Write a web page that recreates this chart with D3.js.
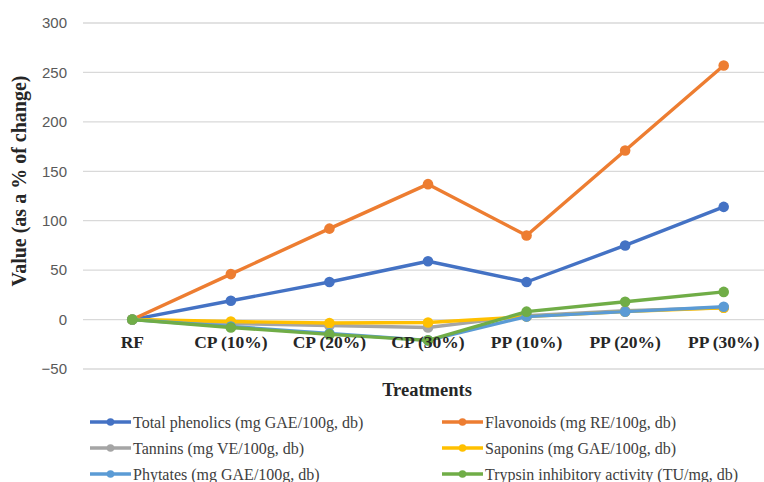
<!DOCTYPE html>
<html><head><meta charset="utf-8">
<script src="https://cdn.jsdelivr.net/npm/d3@7"></script>
<style>body{margin:0;background:#fff}svg{display:block}</style>
</head><body>
<svg id="c" width="764" height="482"></svg>
<script>
const categories = ["RF","CP (10%)","CP (20%)","CP (30%)","PP (10%)","PP (20%)","PP (30%)"];
const yTicks = [-50,0,50,100,150,200,250,300];
const totalPhenolics = [0,19,38,59,38,75,114];
const flavonoids = [0,46,92,137,85,171,257];
const tannins = [0,-4,-6,-8,4,9,12];
const saponins = [0,-2,-3.5,-3,3,8,12];
const phytates = [0,-7,-14,-21,3,8,13];
const trypsin = [0,-8,-15,-21,8,18,28];
const seriesNames = ["Total phenolics (mg GAE/100g, db)","Flavonoids (mg RE/100g, db)","Tannins (mg VE/100g, db)","Saponins (mg GAE/100g, db)","Phytates (mg GAE/100g, db)","Trypsin inhibitory activity (TU/mg, db)"];
const seriesValues = [totalPhenolics, flavonoids, tannins, saponins, phytates, trypsin];
const colors = ["#4472C4","#ED7D31","#A5A5A5","#FFC000","#5B9BD5","#70AD47"];

const svg = d3.select("#c");
const x = d3.scaleBand().domain(categories).range([83, 773]);
const y = d3.scaleLinear().domain([-50,300]).range([369, 23]);
const cx = d => x(d) + x.bandwidth()/2;

// gridlines
svg.append("g").selectAll("line").data(yTicks).join("line")
  .attr("x1",83).attr("x2",764).attr("y1",d=>y(d)).attr("y2",d=>y(d))
  .attr("stroke","#d9d9d9").attr("stroke-width",1.3);

// y tick labels
const yAxis = d3.axisLeft(y).tickValues(yTicks).tickSize(0).tickPadding(0);
const gy = svg.append("g").attr("transform","translate(67,0)").call(yAxis);
gy.select(".domain").remove();
gy.selectAll("text").attr("font-family","'Liberation Sans', Arial, sans-serif")
  .attr("font-size","15px").attr("fill","#595959");

// lines
const line = d3.line().x((d,i)=>cx(categories[i])).y(d=>y(d));
seriesValues.forEach((vals,si)=>{
  const g = svg.append("g");
  g.append("path").datum(vals).attr("d",line).attr("fill","none")
    .attr("stroke",colors[si]).attr("stroke-width",3.4).attr("stroke-linejoin","round");
  g.selectAll("circle").data(vals).join("circle")
    .attr("cx",(d,i)=>cx(categories[i])).attr("cy",d=>y(d)).attr("r",5.3).attr("fill",colors[si]);
});

// x tick labels
const xAxis = d3.axisBottom(x).tickSize(0).tickPadding(0);
const gx = svg.append("g").attr("transform","translate(0,337)").call(xAxis);
gx.select(".domain").remove();
gx.selectAll("text").attr("font-family","'Liberation Serif', 'Times New Roman', serif")
  .attr("font-size","17.5px").attr("font-weight","bold").attr("fill","#262626").attr("dy","0.6em");

// axis titles
svg.append("text").attr("x",427).attr("y",396).attr("text-anchor","middle")
  .attr("font-family","'Liberation Serif', serif").attr("font-weight","bold").attr("font-size","18.5px")
  .attr("fill","#262626").text("Treatments");
svg.append("text").attr("transform","translate(26,181) rotate(-90)").attr("text-anchor","middle")
  .attr("font-family","'Liberation Serif', serif").attr("font-weight","bold").attr("font-size","20px")
  .attr("fill","#262626").text("Value (as a % of change)");

// legend
const legX = [90, 442], legY = [422, 448, 474];
seriesNames.forEach((name,i)=>{
  const lx = legX[i%2], ly = legY[Math.floor(i/2)];
  const g = svg.append("g").attr("transform",`translate(${lx},${ly})`);
  g.append("line").attr("x1",0).attr("x2",41).attr("y1",0).attr("y2",0)
    .attr("stroke",colors[i]).attr("stroke-width",3.4);
  g.append("circle").attr("cx",20.5).attr("cy",0).attr("r",3.8).attr("fill",colors[i]);
  g.append("text").attr("x",43).attr("y",0).attr("dy","0.35em")
    .attr("font-family","'Liberation Serif', serif").attr("font-size","16px").attr("fill","#404040").text(name);
});
</script>
</body></html>
